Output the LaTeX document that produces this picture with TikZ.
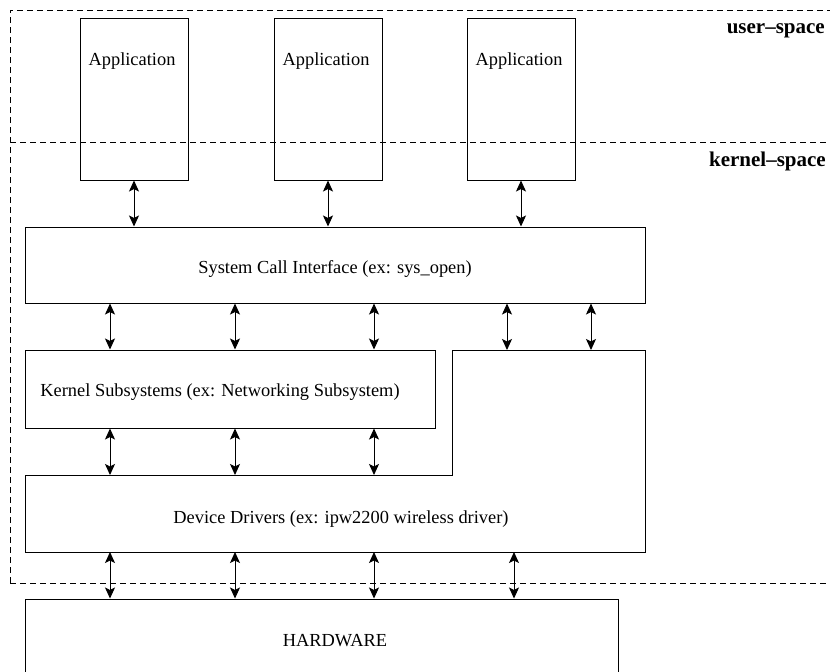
\documentclass[tikz,border=0pt]{standalone}
\usepackage{fontspec}
\setmainfont{Liberation Serif}
\usetikzlibrary{arrows.meta}
\begin{document}
\begin{tikzpicture}[x=1pt,y=-1pt,
  box/.style={draw, line width=1pt, rectangle, inner sep=0pt},
  txt/.style={font=\fontsize{18.4}{22}\selectfont, inner sep=0pt},
  lbl/.style={font=\fontsize{21}{25}\selectfont\bfseries, inner sep=0pt, anchor=east},
  zone/.style={line width=0.9pt, dash pattern=on 6pt off 4pt},
  arr/.style={line width=1pt, {Stealth[length=11pt,width=10pt,inset=2.5pt]}-{Stealth[length=11pt,width=10pt,inset=2.5pt]}}]
\useasboundingbox (0,0) rectangle (830,672);
% zones
\draw[zone] (10,583) -- (10,10) -- (836,10);
\draw[zone] (10,142) -- (836,142);
\draw[zone] (10,583) -- (836,583);
\node[lbl] (us) at (825,31) {user--space};
\node[lbl] (ks_lbl) at (826,161) {kernel--space};
% applications
\node[box, minimum width=108pt, minimum height=162pt] (app1) at (134,99) {};
\node[box, minimum width=108pt, minimum height=162pt] (app2) at (328,99) {};
\node[box, minimum width=108pt, minimum height=162pt] (app3) at (521,99) {};
\node[txt] (t1) at (132,61) {Application};
\node[txt] (t2) at (326,61) {Application};
\node[txt] (t3) at (519,61) {Application};
% system call interface
\node[box, minimum width=620pt, minimum height=76pt] (sci) at (335,265) {};
\node[txt] (scit) at (335,269) {System Call Interface (ex: sys\_open)};
% kernel subsystems
\node[box, minimum width=410pt, minimum height=78pt] (ks) at (230,389) {};
\node[txt] (kst) at (220,392) {Kernel Subsystems (ex: Networking Subsystem)};
% device drivers (L-shape)
\coordinate (ddA) at (452,350);
\coordinate (ddB) at (645,350);
\coordinate (ddC) at (645,552);
\coordinate (ddD) at (25,552);
\coordinate (ddE) at (25,475);
\coordinate (ddF) at (452,475);
\draw[line width=1pt] (ddA) -- (ddB) -- (ddC) -- (ddD) -- (ddE) -- (ddF) -- cycle;
\node[txt] (dd) at (341,519) {Device Drivers (ex: ipw2200 wireless driver)};
% hardware
\node[box, minimum width=593pt, minimum height=100pt] (hw) at (321.5,649) {};
\node[txt] (hwt) at (335,641) {HARDWARE};
% columns
\coordinate (c1) at (110,0);
\coordinate (c2) at (235,0);
\coordinate (c3) at (374,0);
\coordinate (c4) at (507,0);
\coordinate (c5) at (591,0);
\coordinate (c6) at (514,0);
% arrows
\draw[arr] (app1.south) -- (app1.south |- sci.north);
\draw[arr] (app2.south) -- (app2.south |- sci.north);
\draw[arr] (app3.south) -- (app3.south |- sci.north);
\draw[arr] (c1 |- sci.south) -- (c1 |- ks.north);
\draw[arr] (c2 |- sci.south) -- (c2 |- ks.north);
\draw[arr] (c3 |- sci.south) -- (c3 |- ks.north);
\draw[arr] (c4 |- sci.south) -- (c4 |- ddA);
\draw[arr] (c5 |- sci.south) -- (c5 |- ddA);
\draw[arr] (c1 |- ks.south) -- (c1 |- ddE);
\draw[arr] (c2 |- ks.south) -- (c2 |- ddE);
\draw[arr] (c3 |- ks.south) -- (c3 |- ddE);
\draw[arr] (c1 |- ddD) -- (c1 |- hw.north);
\draw[arr] (c2 |- ddD) -- (c2 |- hw.north);
\draw[arr] (c3 |- ddD) -- (c3 |- hw.north);
\draw[arr] (c6 |- ddD) -- (c6 |- hw.north);
\end{tikzpicture}
\end{document}
